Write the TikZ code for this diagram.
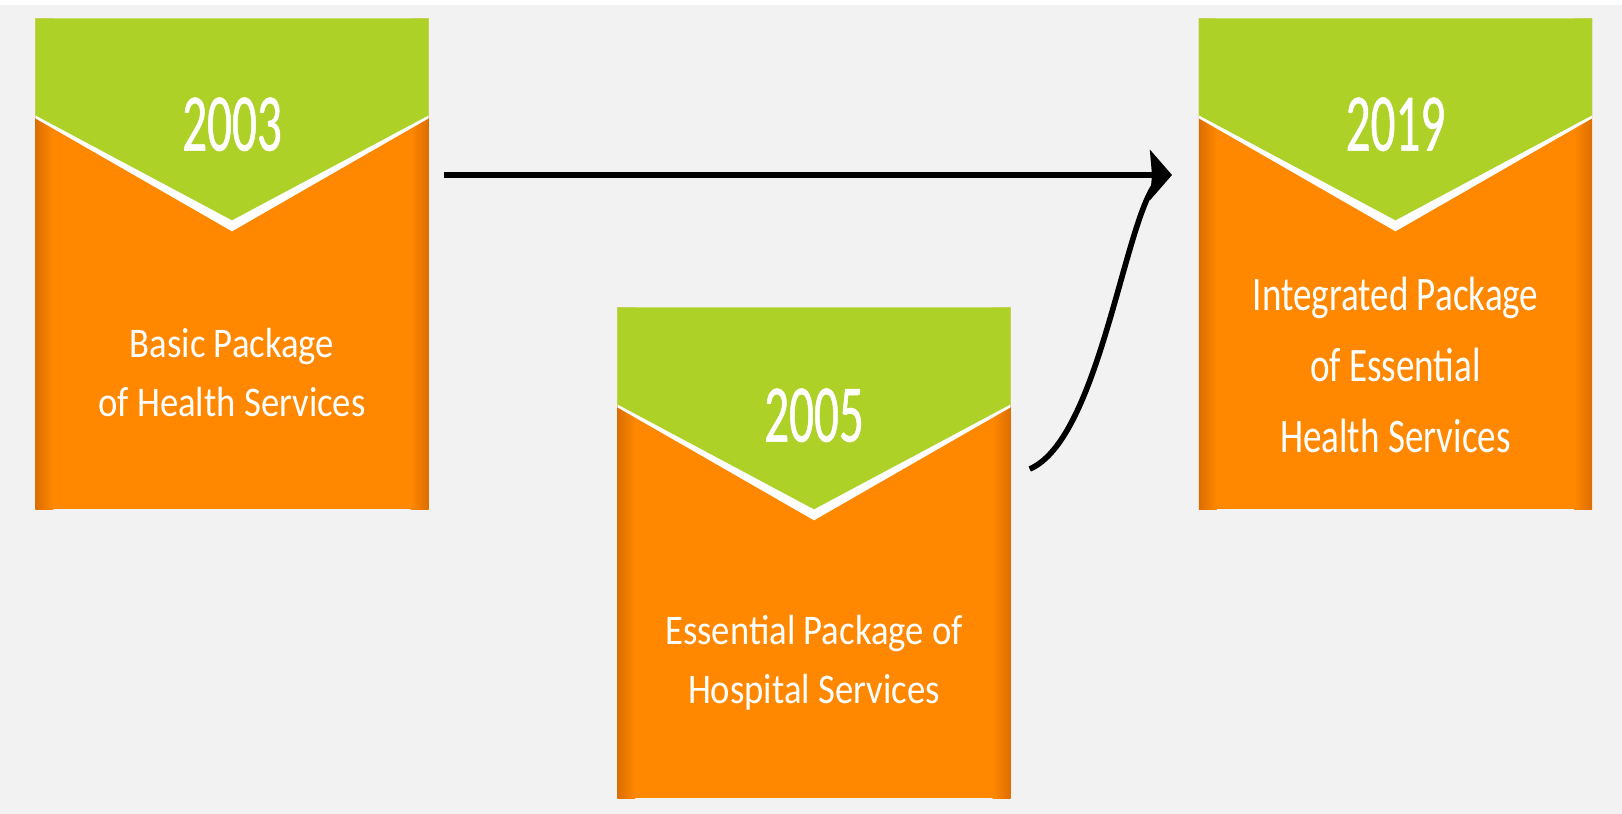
\documentclass[tikz,border=0pt]{standalone}
\usepackage{fontspec}
\setmainfont{Carlito}
\newfontfamily\yearfont[FakeStretch=0.6, FakeBold=0.6]{Carlito}
\newfontfamily\pkgfont[FakeStretch=0.87]{Carlito}
\newfontfamily\intpkgfont[FakeStretch=0.77]{Carlito}
\usetikzlibrary{calc, arrows.meta}

\definecolor{pkgorange}{RGB}{255,136,0}
\definecolor{pkgdark}{RGB}{220,110,0}
\definecolor{pkggreen}{RGB}{173,209,38}
\definecolor{bggray}{RGB}{242,242,242}

\tikzstyle{package}=[rectangle, fill=pkgorange, inner sep=0,
                     minimum width=3.92cm, minimum height=4.9cm]
\tikzstyle{year}=[text=white, inner sep=0,
                  font=\yearfont\fontsize{23.3}{28}\selectfont]
\tikzstyle{pkgtext}=[text=white, align=center, inner sep=0,
                     font=\pkgfont\fontsize{12}{16.8}\selectfont]
\tikzstyle{flow}=[line width=1.6pt,
                  -{Stealth[length=0.22cm, width=0.5cm, inset=0.02cm]}]

% edge shading and green chevron on top of a package box
\newcommand{\drawchevron}[1]{%
  \shade[left color=pkgdark, right color=pkgorange]
    (#1.south west) rectangle ($(#1.north west)+(0.18,0)$);
  \shade[left color=pkgorange, right color=pkgdark]
    ($(#1.south east)+(-0.18,0)$) rectangle (#1.north east);
  \fill[white] (#1.north west) -- (#1.north east) -- ($(#1.north east)+(0,-1.0)$)
    -- ($(#1.north)+(0,-2.13)$) -- ($(#1.north west)+(0,-1.0)$) -- cycle;
  \fill[pkggreen] (#1.north west) -- (#1.north east) -- ($(#1.north east)+(0,-0.97)$)
    -- ($(#1.north)+(0,-2.02)$) -- ($(#1.north west)+(0,-0.97)$) -- cycle;
}

\begin{document}
\begin{tikzpicture}

  %%%%%%%%%%%%%%%%%%%%%%%%%%%%%%
  % background
  \fill[bggray] (0, 0) rectangle (16.22, 8.14);
  \fill[white] (0, 8.09) rectangle (16.22, 8.14);

  %%%%%%%%%%%%%%%%%%%%%%%%%%%%%%
  % packages
  \node (basic) at (2.32, 5.50) [package] {};
  \drawchevron{basic}
  \node (y2003) at ($(basic.north)+(0,-1.06)$) [year] {2003};
  \node (basic_txt) at ($(basic.north)+(0,-3.54)$) [pkgtext]
    {Basic Package\\of Health Services};

  \node (hosp) at (8.14, 2.61) [package] {};
  \drawchevron{hosp}
  \node (y2005) at ($(hosp.north)+(0,-1.08)$) [year] {2005};
  \node (hosp_txt) at ($(hosp.north)+(0,-3.55)$) [pkgtext]
    {Essential Package of\\Hospital Services};

  \node (integ) at (13.955, 5.50) [package] {};
  \drawchevron{integ}
  \node (y2019) at ($(integ.north)+(0,-1.06)$) [year] {2019};
  \node (integ_txt) at ($(integ.north)+(0,-3.47)$) [pkgtext,
    font=\intpkgfont\fontsize{13.7}{20.2}\selectfont]
    {Integrated Package\\of Essential\\Health Services};

  %%%%%%%%%%%%%%%%%%%%%%%%%%%%%%
  % links
  \coordinate (joint) at (11.72, 6.39);
  \coordinate (merge) at (11.58, 6.33);

  \draw [flow, shorten <=0.15cm] (basic.east |- joint) -- (joint);

  \draw [line width=1.6pt] ([xshift=0.19cm, yshift=0.84cm]hosp.east)
    .. controls (11.0, 3.75) and (11.25, 6.0) .. (merge);

\end{tikzpicture}
\end{document}
